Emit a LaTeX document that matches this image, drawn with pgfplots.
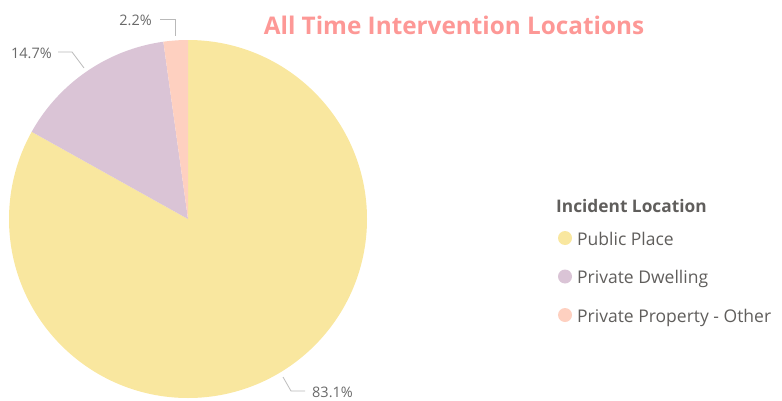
\documentclass[border=0pt]{standalone}
\usepackage{fontspec}
\setmainfont{Open Sans}
\usepackage{pgfplots}
\usepackage{pgfplotstable}
\pgfplotsset{compat=1.18}

\definecolor{slA}{RGB}{249,231,159}
\definecolor{slB}{RGB}{218,196,214}
\definecolor{slC}{RGB}{254,208,192}
\definecolor{ttl}{RGB}{253,152,150}
\definecolor{lbl}{RGB}{105,105,105}
\definecolor{lgd}{RGB}{96,94,92}
\definecolor{lead}{RGB}{185,185,185}

% share of each location, percent
\pgfplotstableread[col sep=comma]{
name,value
Public Place,83.1
Private Dwelling,14.7
Private Property - Other,2.2
}\piedata

\begin{document}
\begin{tikzpicture}
\begin{axis}[
    width=782bp, height=401bp, scale only axis,
    xmin=0, xmax=782, ymin=0, ymax=401,
    y dir=reverse,
    hide axis, clip=false,
]
\path (axis cs:0,0) rectangle (axis cs:782,401);

% slices, clockwise from 12 o'clock
\pgfplotsextra{
  \gdef\cum{0}
  \foreach \i/\c in {0/slA,1/slB,2/slC}{
    \pgfplotstablegetelem{\i}{value}\of\piedata
    \pgfmathsetmacro\start{90-3.6*\cum}
    \pgfmathsetmacro\stop{\start-3.6*\pgfplotsretval}
    \fill[\c] (axis cs:188,219) -- ++(\start:179bp)
      arc[start angle=\start, end angle=\stop, radius=179bp] -- cycle;
    \pgfmathsetmacro\newcum{\cum+\pgfplotsretval}
    \global\let\cum\newcum
  }
}

% title
\node[anchor=base, text=ttl, font=\fontsize{24.3bp}{27bp}\selectfont\bfseries, inner sep=0]
  at (axis cs:454,34) {All Time Intervention Locations};

% data labels
\begin{scope}[font=\fontsize{14.5bp}{17bp}\selectfont, text=lbl]
\draw[lead, line width=0.8bp] (axis cs:160,19) -- (axis cs:175,19) -- (axis cs:175,36);
\node[anchor=base east, inner sep=0] at (axis cs:152,26) {2.2\%};
\draw[lead, line width=0.8bp] (axis cs:58,52) -- (axis cs:72,52) -- (axis cs:84,68);
\node[anchor=base east, inner sep=0] at (axis cs:52,58) {14.7\%};
\draw[lead, line width=0.8bp] (axis cs:283,377) -- (axis cs:291,391) -- (axis cs:305,391);
\node[anchor=base west, inner sep=0] at (axis cs:312,397) {83.1\%};
\end{scope}

% legend
\begin{scope}[font=\fontsize{17.5bp}{20bp}\selectfont, text=lgd]
\node[anchor=base west, inner sep=0, font=\fontsize{17.3bp}{20bp}\selectfont\bfseries]
  at (axis cs:556,212) {Incident Location};
\fill[slA] (axis cs:565,238) circle[radius=7bp];
\node[anchor=base west, inner sep=0] at (axis cs:577,245) {Public Place};
\fill[slB] (axis cs:565,276.5) circle[radius=7bp];
\node[anchor=base west, inner sep=0] at (axis cs:577,283.5) {Private Dwelling};
\fill[slC] (axis cs:565,315) circle[radius=7bp];
\node[anchor=base west, inner sep=0] at (axis cs:577,322) {Private Property - Other};
\end{scope}
\end{axis}
\end{tikzpicture}
\end{document}
